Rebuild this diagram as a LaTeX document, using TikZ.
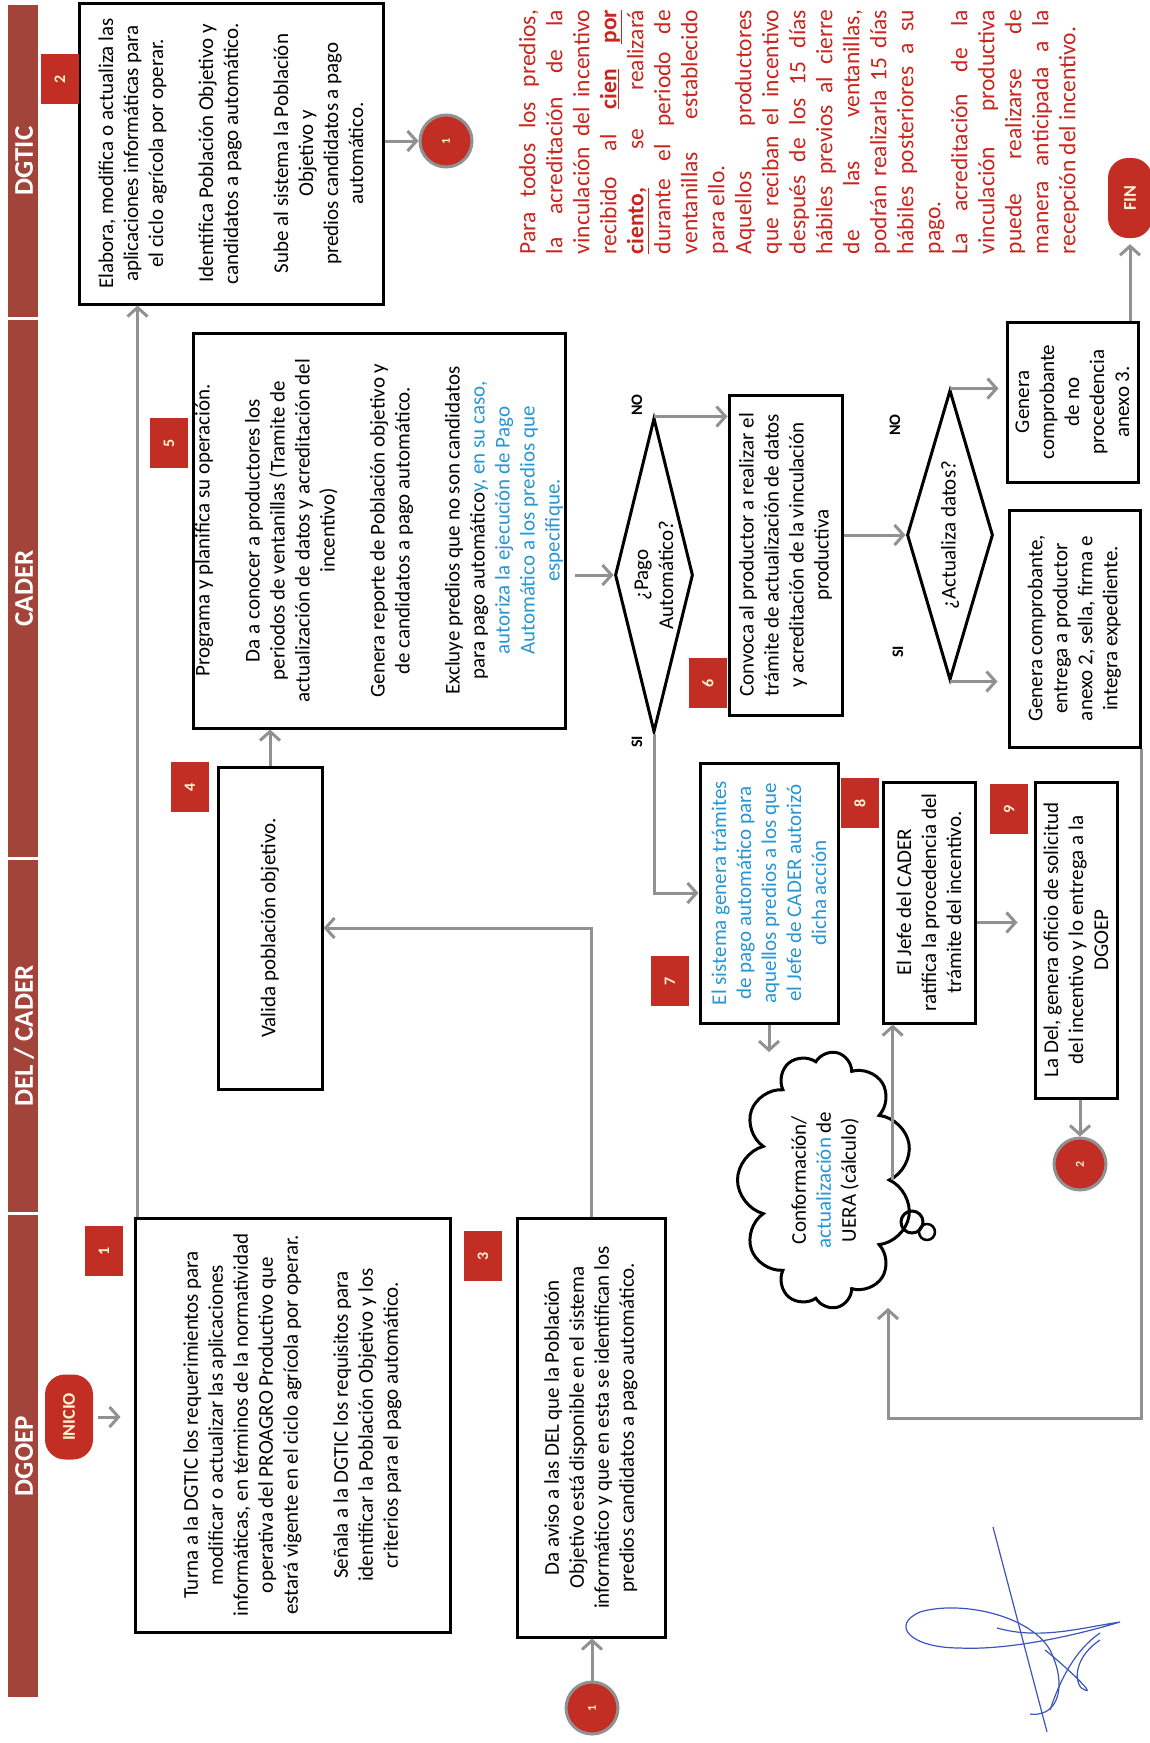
\documentclass[tikz,border=0pt]{standalone}
\usepackage{fontspec}
\setmainfont{Carlito}
\usepackage{tikz}
\usetikzlibrary{shapes.geometric,shapes.symbols,arrows.meta}

\definecolor{carrilrojo}{RGB}{163,68,58}
\definecolor{rojo}{RGB}{194,46,36}
\definecolor{gris}{RGB}{145,145,145}
\definecolor{azul}{RGB}{40,150,210}
\definecolor{notarojo}{RGB}{200,38,30}
\definecolor{crema}{RGB}{255,242,210}
\definecolor{firma}{RGB}{60,85,190}

\tikzset{
	carril/.style={rotate=90, text=white, font=\fontsize{27}{27}\selectfont\bfseries},
	caja/.style={draw, line width=3pt, rotate=90, align=center, inner xsep=2pt, inner ysep=1pt, font=\fontsize{21}{25}\selectfont},
	numero/.style={fill=rojo, rotate=90, minimum width=50pt, minimum height=38pt, text=crema, font=\fontsize{16}{16}\selectfont\bfseries},
	terminal/.style={fill=rojo, rotate=90, rounded corners=20pt, text=crema, font=\fontsize{18}{18}\selectfont\bfseries},
	conector/.style={circle, fill=rojo, draw=gris, line width=3pt, minimum size=52pt, inner sep=0pt, rotate=90, text=crema, font=\fontsize{12}{12}\selectfont\bfseries},
	decision/.style={diamond, draw, line width=3pt, rotate=90, inner sep=0pt, align=center, font=\fontsize{21}{25}\selectfont},
	etiqueta/.style={rotate=90, font=\fontsize{16}{16}\selectfont\bfseries},
	flecha/.style={draw=gris, line width=3pt, -{Straight Barb[length=9pt,width=20pt]}},
}

\begin{document}
\begin{tikzpicture}[x=1pt,y=-1pt]
	\useasboundingbox (0,0) rectangle (1150,1743);
	\fill[white] (0,0) rectangle (1150,1743);
	
	\foreach \ya/\yb/\nombre [count=\k] in {5/317/DGTIC, 320/857/CADER, 860/1212/{DEL / CADER}, 1215/1697/DGOEP}{
		\fill[carrilrojo] (8,\ya) rectangle (38,\yb);
		\node[carril] (carril\k) at (24,{(\ya+\yb)/2}) {\nombre};
	}
	
	\node[terminal, minimum width=85pt, minimum height=48pt] (inicio) at (69,1417) {INICIO};
	\node[terminal, minimum width=80pt, minimum height=44pt] (fin) at (1130,198) {FIN};
	
	\node[caja, minimum width=414pt, minimum height=315pt] (b1) at (292.5,1425) {Turna a la DGTIC los requerimientos para\\ modificar o actualizar las aplicaciones\\ informáticas, en términos de la normatividad\\ operativa del PROAGRO Productivo que\\ estará vigente en el ciclo agrícola por operar.\\[25pt] Señala a la DGTIC los requisitos para\\ identificar la Población Objetivo y los\\ criterios para el pago automático.};
	\node[caja, minimum width=301pt, minimum height=304pt] (b2) at (231,153.5) {Elabora, modifica o actualiza las\\ aplicaciones informáticas para\\ el ciclo agrícola por operar.\\[25pt] Identifica Población Objetivo y\\ candidatos a pago automático.\\[25pt] Sube al sistema la Población\\ Objetivo y\\ predios candidatos a pago\\ automático.};
	\node[caja, minimum width=419pt, minimum height=148pt] (b3) at (591,1427.5) {Da aviso a las DEL que la Población\\ Objetivo está disponible en el sistema\\ informático y que en esta se identifican los\\ predios candidatos a pago automático.};
	\node[caja, minimum width=322pt, minimum height=104pt] (b4) at (270,928) {Valida población objetivo.};
	\node[caja, minimum width=395pt, minimum height=372pt] (b5) at (379,530.5) {Programa y planifica su operación.\\[25pt] Da a conocer a productores los\\ periodos de ventanillas (Tramite de\\ actualización de datos y acreditación del\\ incentivo)\\[25pt] Genera reporte de Población objetivo y\\ de candidatos a pago automático.\\[25pt] Excluye predios que no son candidatos\\ para pago automático{\color{azul} y, en su caso,}\\ {\color{azul}autoriza la ejecución de Pago}\\ {\color{azul}Automático a los predios que}\\ {\color{azul}especifique.}};
	\node[caja, minimum width=320pt, minimum height=113pt] (b6) at (785.5,555) {Convoca al productor a realizar el\\ trámite de actualización de datos\\ y acreditación de la vinculación\\ productiva};
	\node[caja, text=azul, minimum width=260pt, minimum height=138pt] (b7) at (769,893) {El sistema genera trámites\\ de pago automático para\\ aquellos predios a los que\\ el Jefe de CADER autorizó\\ dicha acción};
	\node[caja, minimum width=241pt, minimum height=92pt] (b8) at (929,902.5) {El Jefe del CADER\\ ratifica la procedencia del\\ trámite del incentivo.};
	\node[caja, minimum width=316pt, minimum height=82pt] (b9) at (1076,940) {La Del, genera oficio de solicitud\\ del incentivo y lo entrega a la\\ DGOEP};
	\node[caja, minimum width=160pt, minimum height=131pt] (noproc) at (1072.5,402) {Genera\\ comprobante\\ de no\\ procedencia\\ anexo 3.};
	\node[caja, minimum width=237pt, minimum height=131pt] (comp) at (1074.5,628.5) {Genera comprobante,\\ entrega a productor\\ anexo 2, sella, firma e\\ integra expediente.};
	
	\node[decision, aspect=4, minimum width=314pt, minimum height=78pt] (d1) at (654,575) {¿Pago\\ Automático?};
	\node[decision, aspect=3.4, minimum width=290pt, minimum height=86pt] (d2) at (950,535) {¿Actualiza datos?};
	
	\node[cloud, cloud puffs=11, cloud ignores aspect, draw, line width=3pt, rotate=90, minimum width=257pt, minimum height=175pt, inner sep=0pt, align=center, font=\fontsize{21}{25}\selectfont] (uera) at (825,1180) {Conformación/\\ {\color{azul}actualización} de\\ UERA (cálculo)};
	\draw[line width=3pt] (912,1222) circle[radius=11pt];
	\draw[line width=2.5pt] (927,1232) circle[radius=8pt];
	
	\node[conector] (c1a) at (446,141) {1};
	\node[conector] (c1b) at (592,1708) {1};
	\node[conector] (c2) at (1080,1164) {2};
	
	\foreach \x/\y/\n in {60/79/2, 169/443/5, 190/787/4, 104/1251/1, 483/1256/3, 708/683/6, 670/981/7, 860/803/8, 1009/809/9}
		\node[numero] (num\n) at (\x,\y) {\n};
	
	\node[etiqueta] (no1) at (637,405) {NO};
	\node[etiqueta] (si1) at (637,742) {SI};
	\node[etiqueta] (no2) at (895,425) {NO};
	\node[etiqueta] (si2) at (898,652) {SI};
	
	\node[rotate=90, text width=244pt, align=justify, text=notarojo, inner sep=0pt, font=\fontsize{23.5}{27}\selectfont] (nota) at (799,132) {\noindent Para todos los predios,\linebreak la acreditación de la\linebreak vinculación del incentivo\linebreak recibido al \underline{\textbf{cien}} \underline{\textbf{por}}\linebreak \underline{\textbf{ciento,}} se realizará\linebreak durante el periodo de\linebreak ventanillas establecido\linebreak para ello.\newline Aquellos productores\linebreak que reciban el incentivo\linebreak después de los 15 días\linebreak hábiles previos al cierre\linebreak de las ventanillas,\linebreak podrán realizarla 15 días\linebreak hábiles posteriores a su\linebreak pago.\newline La acreditación de la\linebreak vinculación productiva\linebreak puede realizarse de\linebreak manera anticipada a la\linebreak recepción del incentivo.};
	
	\coordinate (s12) at ([xshift=4pt]b1.north east);
	\coordinate (s89) at ([yshift=-20pt]b8.south);
	\coordinate (giro) at (888,1418);
	
	\draw[flecha, shorten <=5pt, shorten >=13pt] (inicio.south) -- (inicio.south -| b1.north);
	\draw[flecha] (s12) -- (s12 |- b2.west);
	\draw[flecha] (c1a -| b2.south) -- (c1a.north);
	\draw[flecha] (c1b.east) -- (c1b.east |- b3.west);
	\draw[flecha] (b3.east) |- (b4.south);
	\draw[flecha] (b4.east) -- (b4.east |- b5.west);
	\draw[flecha, shorten <=8pt] (d1.north -| b5.south) -- (d1.north);
	\draw[flecha] (d1.east) -- (d1.east -| b6.north);
	\draw[flecha] (d1.west) |- (b7.north);
	\draw[flecha] (d2.north -| b6.south) -- (d2.north);
	\draw[flecha, shorten >=7pt] (d2.east) -- (d2.east -| noproc.north);
	\draw[flecha, shorten >=10pt] (d2.west) -- (d2.west -| comp.north);
	\draw[flecha, shorten >=6pt] (fin.west |- noproc.east) -- (fin.west);
	\draw[flecha] (comp.south west) |- (giro) -- (giro |- uera.west);
	\draw[flecha] (b7.west) -- (b7.west |- uera.east);
	\draw[flecha] (uera.south) -- (uera.south |- b8.west);
	\draw[flecha, shorten >=16pt] (s89) -- (s89 -| b9.north);
	\draw[flecha] (c2.east |- b9.west) -- (c2.east);
	
	\draw[firma, line width=1.2pt] (993,1527) -- (1047,1732);
	\draw[firma, line width=1.2pt] (997,1628) .. controls (1040,1640) and (1080,1628) .. (1120,1622) .. controls (1060,1640) and (1000,1650) .. (960,1648) .. controls (910,1648) and (890,1625) .. (920,1612) .. controls (960,1600) and (1030,1615) .. (1050,1650) .. controls (1065,1680) and (1060,1705) .. (1045,1712) .. controls (1040,1714) and (1035,1715) .. (1030,1714);
	\draw[firma, line width=1.2pt] (1100,1633) .. controls (1075,1650) and (1060,1680) .. (1050,1710);
	\draw[firma, line width=1.2pt] (1045,1650) .. controls (1070,1670) and (1095,1695) .. (1085,1690) .. controls (1075,1688) and (1070,1660) .. (1100,1640);
\end{tikzpicture}
\end{document}
